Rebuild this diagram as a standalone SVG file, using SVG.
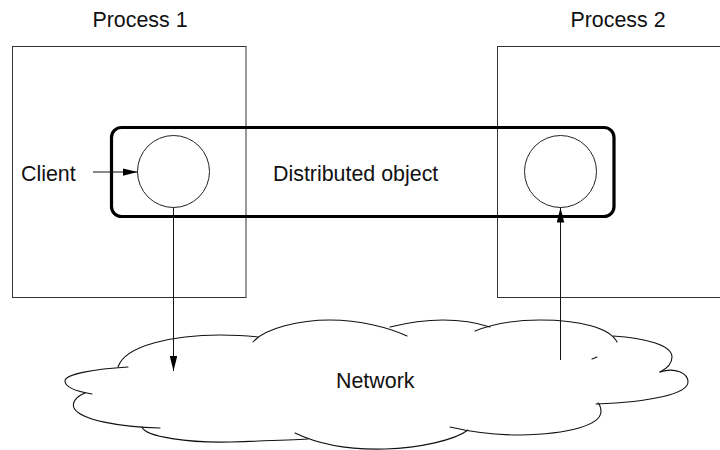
<svg xmlns="http://www.w3.org/2000/svg" width="720" height="450" viewBox="0 0 720 450">
  <style>
    .lbl { font-family: "Liberation Sans", Arial, sans-serif; font-size: 21.4px; fill: #111; }
    .box { fill: none; stroke: #333; stroke-width: 1; }
    .obj { fill: none; stroke: #000; stroke-width: 3.2; }
    .circ { fill: none; stroke: #222; stroke-width: 1; }
    .cloud path { fill: none; stroke: #111; stroke-width: 1.1; stroke-linecap: round; }
    .conn { fill: none; stroke: #111; stroke-width: 1; }
  </style>
  <defs>
    <marker id="arrow" markerUnits="userSpaceOnUse" markerWidth="16" markerHeight="8" refX="15" refY="3.75" orient="auto">
      <path d="M0,0 L15,3.75 L0,7.5 z" fill="#000"/>
    </marker>
  </defs>
  <rect width="720" height="450" fill="#fff"/>

  <g id="process1">
    <rect class="box" x="12.5" y="46.5" width="233.5" height="251"/>
    <text class="lbl" x="140" y="27" text-anchor="middle">Process 1</text>
  </g>

  <g id="process2">
    <rect class="box" x="497.5" y="46.5" width="240" height="251"/>
    <text class="lbl" x="618" y="27" text-anchor="middle">Process 2</text>
  </g>

  <g id="distributed-object">
    <rect class="obj" x="111.5" y="127.5" width="502.5" height="89" rx="10" ry="10"/>
    <text class="lbl" x="273" y="181">Distributed object</text>
  </g>

  <g id="proxy1">
    <circle class="circ" cx="173.5" cy="171.5" r="36"/>
  </g>

  <g id="proxy2">
    <circle class="circ" cx="560.5" cy="171.5" r="36"/>
  </g>

  <g id="client">
    <text class="lbl" x="21" y="181">Client</text>
  </g>

  <g id="network" class="cloud">
    <path d="M118,367 C125,345 175,335 220,335 C235,335 250,336 258,337"/>
    <path d="M128,367 C95,369 65,374 65,381 C65,388 80,392 92,394"/>
    <path d="M85,393 C75,397 72,403 74,408 C80,420 120,427 160,428"/>
    <path d="M142,427 C145,437 190,443 230,442 C260,441 290,440 308,439"/>
    <path d="M295,433 C320,445 350,450 385,449 C420,448 455,440 468,430"/>
    <path d="M450,427 C480,434 500,435 520,435 C570,434 600,425 601,412 C601,408 600,405 598,403"/>
    <path d="M660,372 C675,367 688,373 688,382 C688,394 650,402 596,404"/>
    <path d="M613,336 C645,338 672,345 672,357 C672,364 666,369 660,372"/>
    <path d="M475,331 C495,323 520,320 540,320 C580,320 610,328 617,342"/>
    <path d="M390,327 C410,322 430,320 443,320 C460,320 478,323 490,327"/>
    <path d="M253,342 C265,328 300,320 330,320 C360,320 390,328 407,336"/>
    <path d="M592,359 L597,357"/>
    <text class="lbl" x="336" y="388">Network</text>
  </g>

  <g id="connectors">
    <line class="conn" x1="93" y1="172" x2="137.5" y2="172" marker-end="url(#arrow)"/>
    <line class="conn" x1="173.5" y1="207.5" x2="173.5" y2="371" marker-end="url(#arrow)"/>
    <line class="conn" x1="560.5" y1="360" x2="560.5" y2="207.5" marker-end="url(#arrow)"/>
  </g>
</svg>
